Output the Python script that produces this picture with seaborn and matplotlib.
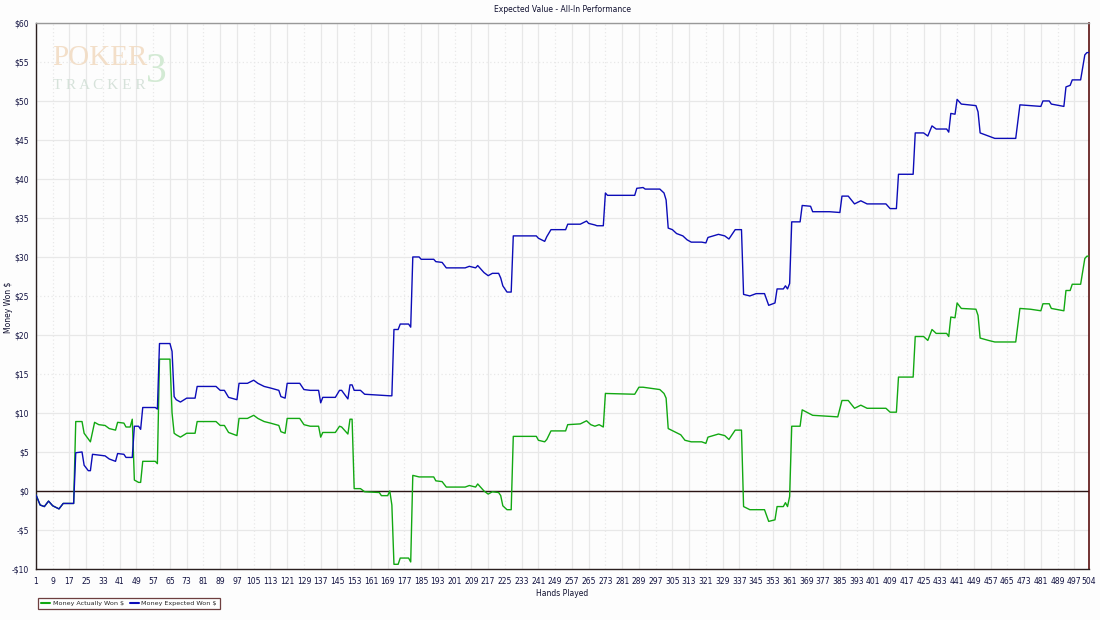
import matplotlib
matplotlib.use("Agg")
import matplotlib.pyplot as plt
import seaborn as sns

# Datos (mano, dinero)
start_hands = [1, 3, 5, 7, 9, 12, 14, 19]
start_won = [-0.5, -1.8, -2.0, -1.3, -1.9, -2.3, -1.6, -1.6]

expected_hands = start_hands + [
    20, 23, 24, 26, 27, 28, 31, 34, 36, 39, 40, 43, 44, 47, 48, 50, 51, 52, 58, 59,
    60, 65, 66, 67, 68, 70, 73, 77, 78, 87, 89, 91, 93, 97, 98, 102, 105, 107, 110, 113,
    117, 118, 120, 121, 127, 129, 132, 136, 137, 138, 144, 146, 147, 150, 151, 152, 153, 156, 158, 170,
    171, 172, 174, 175, 179, 180, 181, 184, 185, 191, 192, 195, 197, 206, 208, 211, 212, 215, 217, 219,
    222, 223, 224, 226, 228, 229, 240, 241, 244, 245, 247, 254, 255, 261, 264, 265, 268, 269, 272, 273,
    274, 287, 288, 291, 292, 299, 301, 302, 303, 305, 307, 310, 312, 314, 319, 321, 322, 327, 330, 332,
    335, 338, 339, 342, 345, 349, 351, 354, 355, 358, 359, 360, 361, 362, 366, 367, 371, 372, 380, 385,
    386, 389, 392, 395, 398, 407, 409, 412, 413, 420, 421, 425, 427, 429, 431, 436, 437, 438, 440, 441,
    443, 450, 451, 452, 456, 459, 469, 471, 476, 481, 482, 485, 486, 492, 493, 495, 496, 500, 502, 503,
    504]
expected_won = start_won + [
    4.9, 5.0, 3.3, 2.6, 2.6, 4.7, 4.6, 4.5, 4.1, 3.8, 4.8, 4.7, 4.3, 4.3, 8.3, 8.3, 7.9, 10.7, 10.7, 10.5,
    18.9, 18.9, 17.9, 12.1, 11.7, 11.4, 11.9, 11.9, 13.4, 13.4, 12.9, 12.9, 12.0, 11.7, 13.8, 13.8, 14.2, 13.8, 13.4, 13.2,
    12.9, 12.1, 11.9, 13.8, 13.8, 13.0, 12.9, 12.9, 11.3, 12.0, 12.0, 12.9, 12.9, 11.8, 13.6, 13.6, 12.9, 12.9, 12.4, 12.2,
    12.2, 20.7, 20.7, 21.4, 21.4, 21.0, 30.0, 30.0, 29.7, 29.7, 29.4, 29.3, 28.6, 28.6, 28.8, 28.6, 28.9, 28.0, 27.6, 27.9,
    27.9, 27.3, 26.3, 25.5, 25.5, 32.7, 32.7, 32.4, 32.0, 32.6, 33.5, 33.5, 34.2, 34.2, 34.6, 34.3, 34.1, 34.0, 34.0, 38.2,
    37.9, 37.9, 38.8, 38.9, 38.7, 38.7, 38.2, 37.3, 33.7, 33.5, 33.0, 32.7, 32.2, 31.9, 31.9, 31.8, 32.5, 32.9, 32.7, 32.3,
    33.5, 33.5, 25.2, 25.0, 25.3, 25.3, 23.8, 24.1, 25.9, 25.9, 26.3, 25.9, 26.6, 34.5, 34.5, 36.6, 36.5, 35.8, 35.8, 35.7,
    37.8, 37.8, 36.8, 37.2, 36.8, 36.8, 36.2, 36.2, 40.6, 40.6, 45.9, 45.9, 45.5, 46.8, 46.4, 46.4, 46.0, 48.4, 48.3, 50.2,
    49.6, 49.4, 48.6, 45.9, 45.5, 45.2, 45.2, 49.5, 49.4, 49.3, 50.0, 50.0, 49.6, 49.3, 51.8, 52.0, 52.7, 52.7, 55.9, 56.2,
    56.2]

actual_hands = start_hands + [
    20, 23, 24, 27, 29, 31, 34, 36, 39, 40, 43, 44, 46, 47, 48, 50, 51, 52, 58, 59,
    60, 65, 66, 67, 68, 70, 73, 77, 78, 87, 89, 91, 93, 97, 98, 102, 105, 107, 110, 113,
    117, 118, 120, 121, 127, 129, 132, 136, 137, 138, 144, 146, 147, 150, 151, 152, 153, 156, 158, 165,
    166, 169, 170, 171, 172, 174, 175, 179, 180, 181, 184, 191, 192, 195, 197, 206, 208, 211, 212, 215,
    217, 219, 222, 223, 224, 226, 228, 229, 240, 241, 244, 245, 247, 254, 255, 261, 264, 266, 268, 270,
    272, 273, 287, 289, 291, 299, 301, 302, 303, 306, 309, 311, 314, 319, 321, 322, 327, 330, 332, 335,
    338, 339, 342, 349, 351, 354, 355, 358, 359, 360, 361, 362, 366, 367, 372, 384, 386, 389, 392, 395,
    398, 407, 409, 412, 413, 420, 421, 425, 427, 429, 431, 436, 437, 438, 440, 441, 443, 450, 451, 452,
    456, 459, 469, 471, 476, 481, 482, 485, 486, 492, 493, 495, 496, 500, 502, 503, 504]
actual_won = start_won + [
    8.9, 8.9, 7.4, 6.3, 8.8, 8.5, 8.4, 8.0, 7.8, 8.8, 8.7, 8.2, 8.2, 9.2, 1.4, 1.1, 1.1, 3.8, 3.8, 3.5,
    16.9, 16.9, 10.0, 7.4, 7.2, 6.9, 7.4, 7.4, 8.9, 8.9, 8.4, 8.4, 7.5, 7.1, 9.3, 9.3, 9.7, 9.3, 8.9, 8.7,
    8.4, 7.6, 7.4, 9.3, 9.3, 8.5, 8.3, 8.3, 6.9, 7.5, 7.5, 8.3, 8.2, 7.3, 9.2, 9.2, 0.3, 0.3, -0.1, -0.2,
    -0.6, -0.6, 0.0, -1.8, -9.4, -9.4, -8.6, -8.6, -9.1, 2.0, 1.8, 1.8, 1.3, 1.2, 0.5, 0.5, 0.7, 0.5, 0.9, 0.0,
    -0.4, -0.1, -0.2, -0.6, -1.9, -2.4, -2.4, 7.0, 7.0, 6.5, 6.3, 6.6, 7.7, 7.7, 8.5, 8.6, 9.0, 8.5, 8.3, 8.5,
    8.2, 12.5, 12.4, 13.3, 13.3, 13.0, 12.5, 11.9, 8.0, 7.6, 7.2, 6.5, 6.3, 6.3, 6.1, 6.9, 7.3, 7.1, 6.6, 7.8,
    7.8, -2.0, -2.4, -2.4, -3.9, -3.7, -2.0, -2.0, -1.5, -2.0, -0.7, 8.3, 8.3, 10.4, 9.7, 9.5, 11.6, 11.6, 10.6, 11.0,
    10.6, 10.6, 10.1, 10.1, 14.6, 14.6, 19.8, 19.8, 19.3, 20.7, 20.2, 20.2, 19.8, 22.3, 22.2, 24.1, 23.4, 23.3, 22.5, 19.6,
    19.3, 19.1, 19.1, 23.4, 23.3, 23.1, 24.0, 24.0, 23.4, 23.1, 25.7, 25.7, 26.5, 26.5, 29.8, 30.1, 30.1]

x_ticks = list(range(1, 498, 8)) + [504]
y_ticks = list(range(-10, 61, 5))


def money_label(v):
    return f"-${-v}" if v < 0 else f"${v}"


def main():
    sns.set_style("white")
    plt.rcParams["font.family"] = ["DejaVu Sans"]

    fig = plt.figure(figsize=(11, 6.2), dpi=100, facecolor="#fdfdfd")
    ax = fig.add_axes([0.0327, 0.0823, 0.9573, 0.8807])
    ax.set_facecolor("#fdfdfd")

    # Rejilla
    for i, t in enumerate(x_ticks):
        ax.axvline(t, color="#e8e8e8", lw=0.9, ls=(0, (1, 2)) if i % 3 == 1 else "-", zorder=0)
    for v in y_ticks:
        ax.axhline(v, color="#e8e8e8", lw=0.9, ls=(0, (1, 2)) if v in (15, 25, 55) else "-", zorder=0)
    ax.axhline(0, color="#2b1414", lw=1.0, zorder=1)

    # Marca de agua
    ax.text(0.015, 0.935, "POKER", transform=ax.transAxes, fontsize=21, family="Liberation Serif",
            color="#f2dcc4", alpha=0.9, va="center", zorder=0)
    ax.text(0.016, 0.885, "T R A C K E R", transform=ax.transAxes, fontsize=11, family="Liberation Serif",
            color="#d6e2da", va="center", zorder=0)
    ax.text(0.104, 0.91, "3", transform=ax.transAxes, fontsize=30, family="Liberation Serif",
            color="#d3ead4", va="center", zorder=0)

    sns.lineplot(x=actual_hands, y=actual_won, ax=ax, color="#12a812", lw=1.0,
                 estimator=None, sort=False, label="Money Actually Won $", zorder=3)
    sns.lineplot(x=expected_hands, y=expected_won, ax=ax, color="#0c0cb8", lw=1.0,
                 estimator=None, sort=False, label="Money Expected Won $", zorder=4)

    ax.set_xlim(1, 504)
    ax.set_ylim(-10, 60)
    ax.set_xticks(x_ticks)
    ax.set_xticklabels([str(t) for t in x_ticks])
    ax.set_yticks(y_ticks)
    ax.set_yticklabels([money_label(v) for v in y_ticks])
    ax.tick_params(axis="both", labelsize=5.5, labelcolor="#101040", length=3, width=0.8,
                   color="#333333", pad=2, direction="out")
    ax.tick_params(axis="x", pad=3)

    for side in ("left", "bottom"):
        ax.spines[side].set_color("#2b2020")
        ax.spines[side].set_linewidth(1.0)
    ax.spines["top"].set_color("#999999")
    ax.spines["top"].set_linewidth(1.0)
    ax.spines["right"].set_color("#5a1010")
    ax.spines["right"].set_linewidth(1.2)

    ax.set_title("Expected Value - All-In Performance", fontsize=5.5, color="#101030", pad=8)
    ax.set_xlabel("Hands Played", fontsize=5.5, color="#101030", labelpad=2)
    ax.set_ylabel("Money Won $", fontsize=5.5, color="#101030")
    ax.yaxis.set_label_coords(-0.0215, 0.48)

    ax.get_legend().remove()
    handles, labels = ax.get_legend_handles_labels()
    leg = fig.legend(handles, labels, loc="lower left", bbox_to_anchor=(0.032, 0.012), ncol=2,
                     fontsize=4.6, frameon=True, fancybox=False, handlelength=1.4,
                     borderpad=0.45, columnspacing=0.9, handletextpad=0.4)
    leg.get_frame().set_edgecolor("#4a1010")
    leg.get_frame().set_linewidth(0.9)
    for line in leg.get_lines():
        line.set_linewidth(1.5)

    fig.savefig("out.png", dpi=100, facecolor=fig.get_facecolor())


if __name__ == "__main__":
    main()
